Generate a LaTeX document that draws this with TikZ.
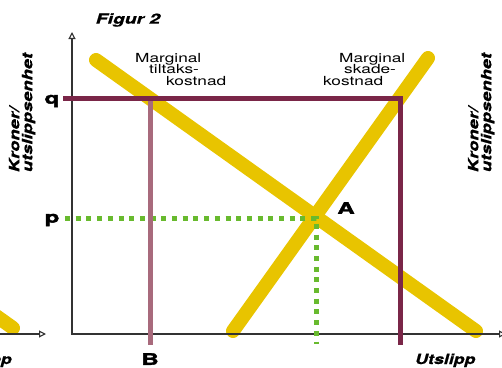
\documentclass[tikz,border=0pt]{standalone}
\usepackage{fontspec}
\setmainfont{TeX Gyre Heros}
\newfontfamily\svart[FakeBold=2]{TeX Gyre Heros}
\newfontfamily\halvsvart[FakeBold=0.8]{TeX Gyre Heros}
\usetikzlibrary{arrows.meta}
\definecolor{gul}{RGB}{232,196,0}
\definecolor{vinrod}{RGB}{122,38,72}
\definecolor{rosa}{RGB}{168,106,124}
\definecolor{gronn}{RGB}{104,186,46}
\definecolor{akse}{RGB}{51,51,51}
\newcommand{\bred}[2][1.38]{\scalebox{#1}[1]{#2}}

\begin{document}
\begin{tikzpicture}[x=1pt, y=-1pt, >={Triangle[open,length=7pt,width=7pt]},
  kurve/.style={line width=14pt, gul, line cap=round},
  akselinje/.style={line width=1.1pt, akse},
  tekst/.style={font=\fontsize{12.5}{13}\selectfont, inner sep=0pt, anchor=base west},
  tittel/.style={font=\halvsvart\fontsize{14}{16}\selectfont\bfseries\itshape, inner sep=0pt},
  bokstav/.style={font=\svart\fontsize{16}{16}\selectfont\bfseries, inner sep=0pt}]
\useasboundingbox (0,0) rectangle (502,367);
% kurver
\coordinate (T1) at (96,60); \coordinate (T2) at (476,331);
\coordinate (S1) at (233,331); \coordinate (S2) at (428,58);
\coordinate (V1) at (-60,276); \coordinate (V2) at (13,328);
\draw[kurve] (V1) -- (V2);
\draw[kurve] (T1) -- (T2);
\draw[kurve] (S1) -- (S2);
% akser
\coordinate (O) at (72,334); \coordinate (Ytopp) at (72,32);
\coordinate (Xende) at (506,334);
\coordinate (Vstart) at (-30,334); \coordinate (Vende) at (46,334);
\draw[akselinje,<->] (Ytopp) -- (O) -- (Xende);
\draw[akselinje,->] (Vstart) -- (Vende);
% p og A
\coordinate (P) at (65,218); \coordinate (A) at (316,218);
\coordinate (Abunn) at (316,344);
\draw[gronn, line width=5pt, dash pattern=on 5pt off 5.7pt] (P) -- (A) -- (Abunn);
% q og B
\coordinate (Btopp) at (150,100); \coordinate (Bbunn) at (150,345);
\coordinate (Q) at (63,98); \coordinate (Qh) at (400,98);
\coordinate (Qbunn) at (400,345);
\draw[rosa, line width=5pt] (Btopp) -- (Bbunn);
\draw[vinrod, line width=5pt] (Q) -- (Qh) -- (Qbunn);
% tekster
\node[tittel] (figur) at (128,20) {\bred[1.38]{Figur 2}};
\node[tekst] (t1) at (135,62) {\bred{Marginal}};
\node[tekst] (t2) at (149,73) {\bred{tiltaks-}};
\node[tekst] (t3) at (166,85) {\bred{kostnad}};
\node[tekst] (s1) at (339,62) {\bred{Marginal}};
\node[tekst] (s2) at (344,73) {\bred{skade-}};
\node[tekst] (s3) at (323,85) {\bred{kostnad}};
\node[tittel, anchor=base west] (utslipp) at (415,364) {\bred[1.27]{Utslipp}};
\node[tittel, anchor=base east] (utslippv) at (12,364) {\bred[1.27]{Utslipp}};
\foreach \n/\x in {kronerv/22.5, kronerh/481.5}
  {\node[tittel, rotate=90] (\n) at (\x,112.5)
    {\bred[1.31]{\begin{tabular}{@{}l@{}}Kroner/\\[-3pt]utslippsenhet\end{tabular}}};}
\foreach \n/\lab/\x/\y in {bq/q/52/101, bp/p/52/220, bA/A/346/208, bB/B/150/359}
  {\node[bokstav] (\n) at (\x,\y) {\bred[1.5]{\lab}};}
\end{tikzpicture}
\end{document}
